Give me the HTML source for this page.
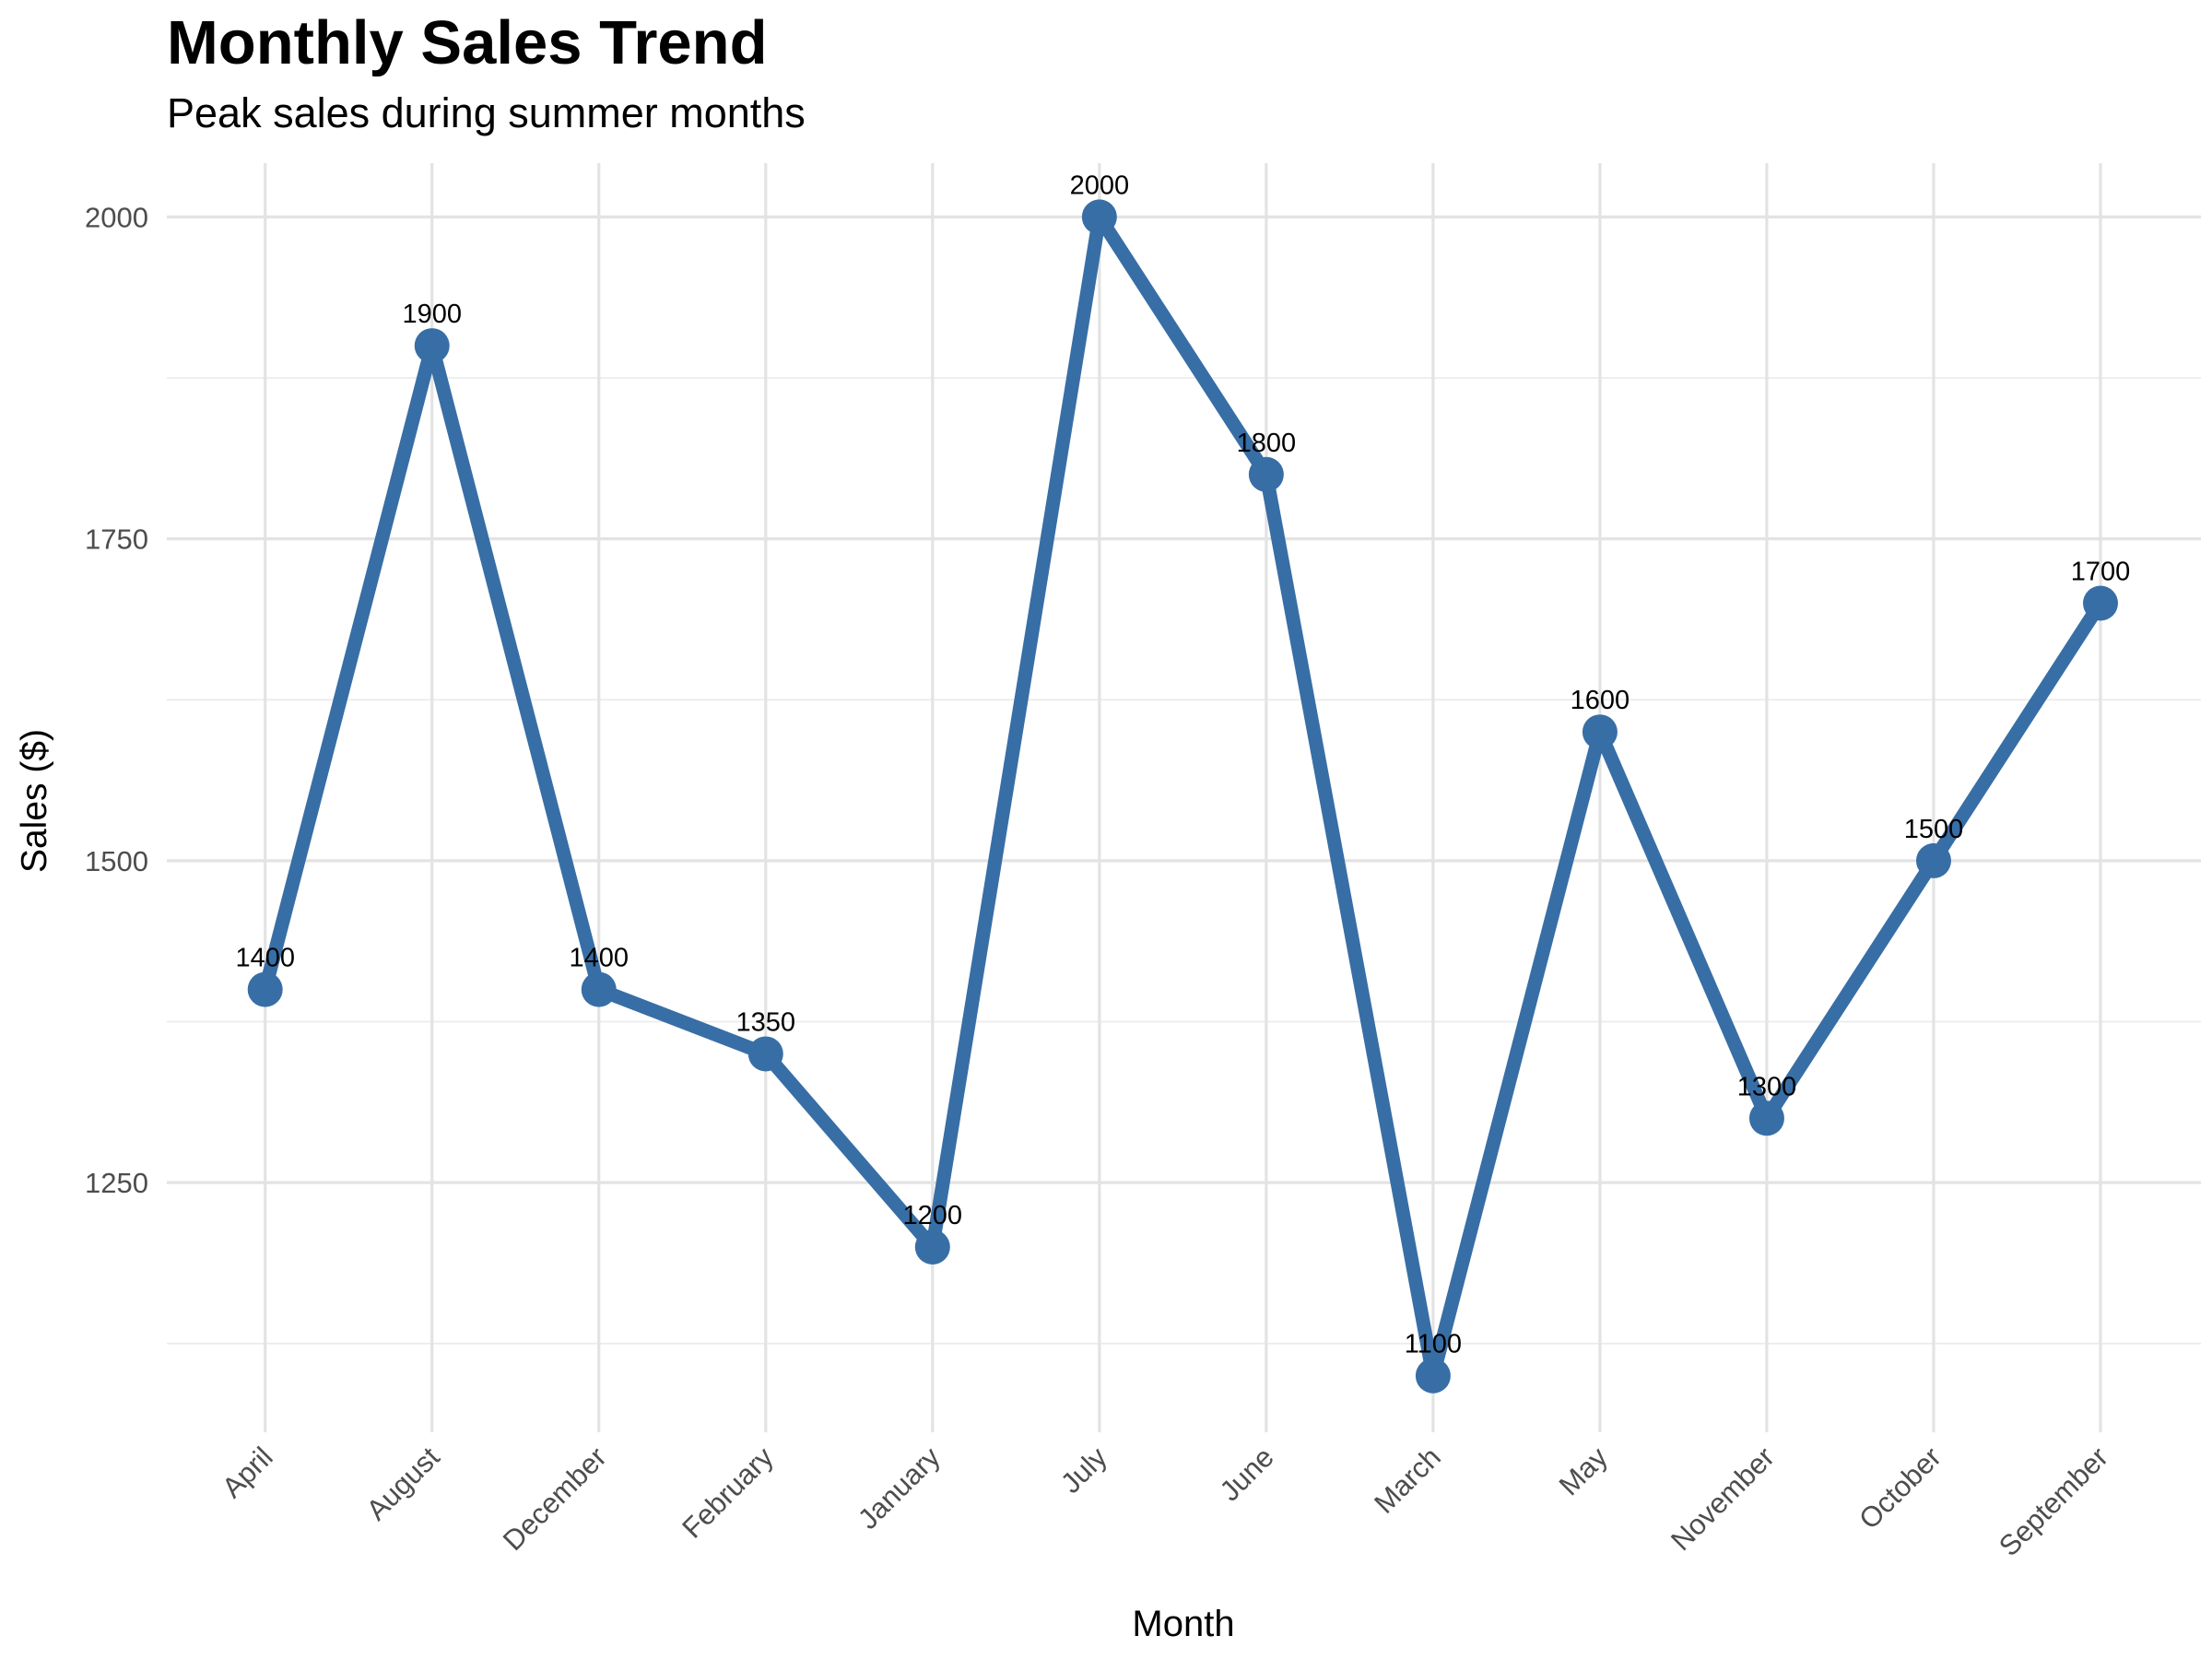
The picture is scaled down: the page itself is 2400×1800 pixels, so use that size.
<!DOCTYPE html>
<html><head><meta charset="utf-8"><style>
html,body{margin:0;padding:0;background:#fff;}
svg{display:block;font-family:"Liberation Sans",Arial,sans-serif;}
</style></head><body>
<svg id="chart" width="2400" height="1800" viewBox="0 0 2400 1800">
<text x="181" y="69" font-size="67" font-weight="bold" fill="#000">Monthly Sales Trend</text>
<text x="181" y="138" font-size="45" fill="#000">Peak sales during summer months</text>
<g id="grid"></g>
<g id="series"></g>
<g id="labels"></g>
<text x="1284" y="1775" font-size="40" text-anchor="middle" fill="#000">Month</text>
<text transform="translate(50,869) rotate(-90)" font-size="39" text-anchor="middle" fill="#000">Sales ($)</text>
</svg>
<script>
const categories=["April","August","December","February","January","July","June","March","May","November","October","September"];
const sales=[1400,1900,1400,1350,1200,2000,1800,1100,1600,1300,1500,1700];
const yTicks=[1250,1500,1750,2000];
const yMinor=[1125,1375,1625,1875];
const NS="http://www.w3.org/2000/svg";
const L=181,R=2388,T=177,B=1554;
const x0=287.7,dx=(2279-287.7)/11;
function xs(i){return x0+i*dx;}
function ys(v){return 235.4+(2000-v)*1.397;}
function mk(tag,attrs,parent){const e=document.createElementNS(NS,tag);for(const k in attrs)e.setAttribute(k,attrs[k]);parent.appendChild(e);return e;}
const grid=document.getElementById('grid'),series=document.getElementById('series'),labels=document.getElementById('labels');
yMinor.forEach(v=>{const l=mk('line',{x1:L,x2:R,y1:ys(v),y2:ys(v),stroke:'#ebebeb','stroke-width':1.7},grid);

});
yTicks.forEach(v=>{const l=mk('line',{x1:L,x2:R,y1:ys(v),y2:ys(v),stroke:'#e3e3e3','stroke-width':3.2},grid);


const t=mk('text',{x:161,y:ys(v)+11,'font-size':31,'text-anchor':'end',fill:'#4d4d4d'},labels);t.textContent=v;

});
categories.forEach((c,i)=>{const l=mk('line',{x1:xs(i),x2:xs(i),y1:T,y2:B,stroke:'#e3e3e3','stroke-width':3.2},grid);


const t=mk('text',{transform:`translate(${xs(i)+10},${1583}) rotate(-45)`,'font-size':31,'text-anchor':'end',fill:'#4d4d4d'},labels);t.textContent=c;

});
const pts=sales.map((v,i)=>xs(i)+','+ys(v)).join(' ');
const pl=mk('polyline',{points:pts,fill:'none',stroke:'#386ea6','stroke-width':15,'stroke-linejoin':'round'},series);


sales.forEach((v,i)=>{const c=mk('circle',{cx:xs(i),cy:ys(v),r:19,fill:'#386ea6'},series);


const t=mk('text',{x:xs(i),y:ys(v)-25,'font-size':29,'text-anchor':'middle',fill:'#000'},labels);t.textContent=v;

});
</script>
</body></html>
